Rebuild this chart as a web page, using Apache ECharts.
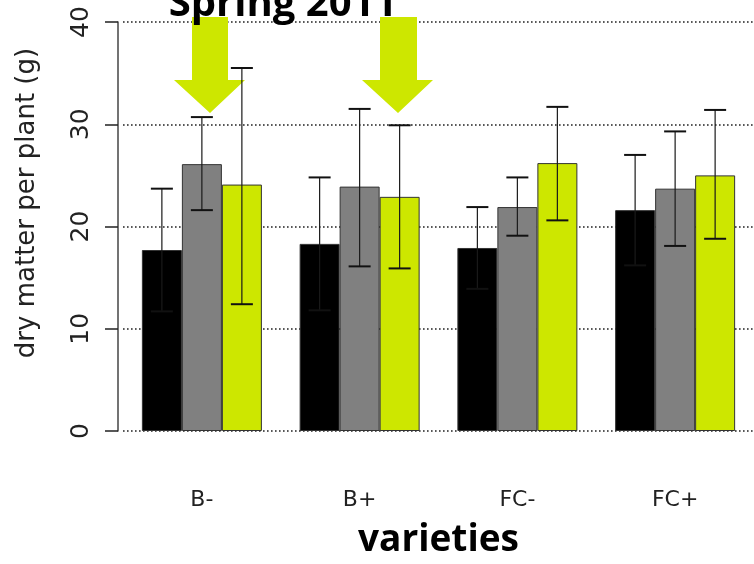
<!DOCTYPE html>
<html>
<head>
<meta charset="utf-8">
<script src="https://cdn.jsdelivr.net/npm/echarts@6/dist/echarts.min.js"></script>
<style>
  html, body { margin: 0; padding: 0; background: #fff; }
  #chart { width: 754px; height: 564px; }
</style>
</head>
<body>
<div id="chart"></div>
<script>
// data
var categories = ['B-', 'B+', 'FC-', 'FC+'];
var yTicks = [0, 10, 20, 30, 40];

var blackMean = [17.7, 18.3, 17.9, 21.6];
var blackLow = [11.7, 11.8, 13.9, 16.2];
var blackHigh = [23.7, 24.8, 21.9, 27.0];

var greyMean = [26.1, 23.9, 21.9, 23.7];
var greyLow = [21.6, 16.1, 19.1, 18.1];
var greyHigh = [30.7, 31.5, 24.8, 29.3];

var greenMean = [24.1, 22.9, 26.2, 25.0];
var greenLow = [12.4, 15.9, 20.6, 18.8];
var greenHigh = [35.5, 29.9, 31.7, 31.4];

var BAR_W = 40;
var CAP_W = 22;
var GREEN = '#cde700';

function errData(low, high) {
    return categories.map(function (c, i) { return [i, low[i], high[i]]; });
}

// error bar drawn at the bar's offset inside the group
function errRenderer(slot) {
    return function (params, api) {
        var cat = api.value(0);
        var lo = api.coord([cat, api.value(1)]);
        var hi = api.coord([cat, api.value(2)]);
        var x = lo[0] + slot * BAR_W;
        var h = CAP_W / 2;
        return {
            type: 'group',
            children: [
                { type: 'line', shape: { x1: x, y1: lo[1], x2: x, y2: hi[1] }, style: { stroke: '#1a1a1a', lineWidth: 1.2 } },
                { type: 'line', shape: { x1: x - h, y1: hi[1], x2: x + h, y2: hi[1] }, style: { stroke: '#111', lineWidth: 2 } },
                { type: 'line', shape: { x1: x - h, y1: lo[1], x2: x + h, y2: lo[1] }, style: { stroke: '#111', lineWidth: 2 } }
            ]
        };
    };
}

function barSeries(name, data, color) {
    return {
        name: name,
        type: 'bar',
        data: data,
        barWidth: BAR_W,
        barGap: '0%',
        itemStyle: { color: color, borderColor: '#333', borderWidth: 1 }
    };
}

function errSeries(low, high, slot) {
    return {
        type: 'custom',
        renderItem: errRenderer(slot),
        encode: { x: 0, y: [1, 2] },
        data: errData(low, high),
        z: 3
    };
}

var option = {
    animation: false,
    grid: { left: 123, right: -4, top: 22, bottom: 130 },
    xAxis: {
        type: 'category',
        data: categories,
        axisLine: { show: false },
        axisTick: { show: false },
        axisLabel: { margin: 58, fontFamily: 'DejaVu Sans', fontSize: 22, color: '#222' },
        name: 'varieties',
        nameLocation: 'middle',
        nameGap: 91,
        nameTextStyle: { fontFamily: 'Open Sans', fontWeight: 'bold', fontSize: 37, color: '#000' }
    },
    yAxis: {
        type: 'value',
        min: yTicks[0],
        max: yTicks[yTicks.length - 1],
        interval: 10,
        offset: 5,
        axisLine: { show: true, lineStyle: { color: '#444', width: 1.5 } },
        axisTick: { show: true, length: 13, lineStyle: { color: '#222', width: 1.5 } },
        axisLabel: { rotate: 90, margin: 24, fontFamily: 'DejaVu Sans', fontSize: 25, color: '#222' },
        splitLine: { show: true, lineStyle: { color: '#222', width: 1.6, type: [1.6, 2.4] } }
    },
    graphic: [
        {
            type: 'polygon', z: 1,
            shape: { points: [[192, 17], [228, 17], [228, 80], [245, 80], [210, 113], [174, 80], [192, 80]] },
            style: { fill: GREEN }
        },
        {
            type: 'polygon', z: 1,
            shape: { points: [[380, 17], [417, 17], [417, 80], [433, 80], [398, 113], [362, 80], [380, 80]] },
            style: { fill: GREEN }
        },
        {
            type: 'text', z: 5, x: 283, y: 25,
            style: { text: 'Spring 2011', align: 'center', verticalAlign: 'bottom', font: 'bold 40px "Open Sans"', fill: '#000' }
        },
        {
            type: 'text', x: 27, y: 203, rotation: Math.PI / 2,
            style: { text: 'dry matter per plant (g)', align: 'center', verticalAlign: 'middle', font: '26px "DejaVu Sans"', fill: '#222' }
        }
    ],
    series: [
        barSeries('black', blackMean, '#000000'),
        barSeries('grey', greyMean, '#808080'),
        barSeries('green', greenMean, GREEN),
        errSeries(blackLow, blackHigh, -1),
        errSeries(greyLow, greyHigh, 0),
        errSeries(greenLow, greenHigh, 1)
    ]
};

var myChart = echarts.init(document.getElementById('chart'));
myChart.setOption(option);
</script>
</body>
</html>
